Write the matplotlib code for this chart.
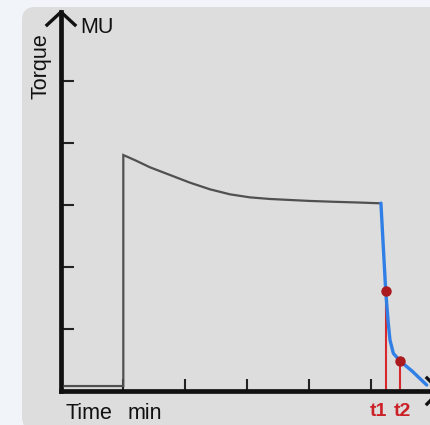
import matplotlib
matplotlib.use("Agg")
import matplotlib.pyplot as plt
from matplotlib.patches import FancyBboxPatch

# ---- data ----
gray_time = [0.06, 1.005, 1.005, 1.20, 1.435, 1.758, 2.081, 2.403, 2.726, 3.048, 3.371, 3.694, 4.00, 4.40, 4.80, 5.16]
gray_torque = [0.08, 0.08, 3.806, 3.72, 3.608, 3.484, 3.360, 3.253, 3.172, 3.123, 3.097, 3.081, 3.066, 3.052, 3.040, 3.027]
blue_time = [5.16, 5.237, 5.274, 5.306, 5.360, 5.468, 5.661, 5.898]
blue_torque = [3.03, 1.618, 1.145, 0.823, 0.608, 0.484, 0.323, 0.097]
marker_time = [5.237, 5.468]
marker_torque = [1.618, 0.484]
marker_labels = ["t1", "t2"]
x_ticks = [1, 2, 3, 4, 5]
y_ticks = [1, 2, 3, 4, 5]

W, H = 430, 425
fig = plt.figure(figsize=(W / 100, H / 100), dpi=100)
fig.patch.set_facecolor("#f1f5f9")

# rounded grey panel in a background axes
bg = fig.add_axes([0, 0, 1, 1], zorder=0)
bg.set_xlim(0, W)
bg.set_ylim(H, 0)
bg.axis("off")
bg.add_patch(FancyBboxPatch((22, 7), 460 - 22, 430 - 7,
                            boxstyle="round,pad=0,rounding_size=13",
                            facecolor="#dddddd", edgecolor="none"))

x0, y0 = 61, 391  # pixel origin
unit = 62.0
ax = fig.add_axes([x0 / W, (H - y0) / H, (W - x0) / W, (y0 - 12) / H], zorder=2)
ax.set_facecolor("none")
ax.set_xlim(0, (W - x0) / unit)
ax.set_ylim(0, (y0 - 12) / unit)
for s in ["top", "right"]:
    ax.spines[s].set_visible(False)
for s in ["left", "bottom"]:
    ax.spines[s].set_linewidth(3.4)
    ax.spines[s].set_color("#111111")
    ax.spines[s].set_capstyle("projecting")
ax.set_xticks(x_ticks)
ax.set_yticks(y_ticks)
ax.tick_params(direction="in", length=9, width=1.5, color="#222222",
               labelbottom=False, labelleft=False)

# axis arrowheads
ytop = (y0 - 12) / unit
ax.plot([-14 / unit, 0, 14 / unit], [ytop - 13 / unit, ytop, ytop - 13 / unit],
        color="#111111", lw=2.4, clip_on=False, solid_joinstyle="miter", zorder=5)
xtip = (440 - x0) / unit
ax.plot([xtip - 13 / unit, xtip, xtip - 13 / unit], [13 / unit, 0, -13 / unit],
        color="#111111", lw=2.4, clip_on=False, solid_joinstyle="miter", zorder=5)

# curves
ax.plot(gray_time, gray_torque, color="#505050", lw=1.6, solid_joinstyle="miter",
        clip_on=False, zorder=3)
ax.plot(blue_time, blue_torque, color="#2f7fe6", lw=2.4, clip_on=False,
        solid_capstyle="round", zorder=3)
for t, v in zip(marker_time, marker_torque):
    ax.plot([t, t], [0, v], color="#d8282d", lw=1.5, zorder=2)
ax.plot(marker_time, marker_torque, "o", color="#aa1a1e", ms=6.5, zorder=4)

# texts
fam = ["Liberation Sans", "DejaVu Sans"]
fig.text(80 / W, 1 - 33 / H, "MU", fontsize=15.5, family=fam, ha="left", va="baseline", color="#111111")
fig.text(41 / W, 1 - 66 / H, "Torque", fontsize=15.5, family=fam, rotation=90,
         ha="center", va="center", color="#111111")
fig.text(65 / W, 1 - 419 / H, "Time", fontsize=15.5, family=fam, ha="left", va="baseline", color="#111111")
fig.text(128 / W, 1 - 419 / H, "min", fontsize=15.5, family=fam, ha="left", va="baseline", color="#111111")
for cx, lab in zip([378, 402], marker_labels):
    fig.text(cx / W, 1 - 416 / H, lab, fontsize=14, family=fam, weight="bold",
             ha="center", va="baseline", color="#cc2027")

fig.savefig("out.png", dpi=100, facecolor=fig.get_facecolor())
